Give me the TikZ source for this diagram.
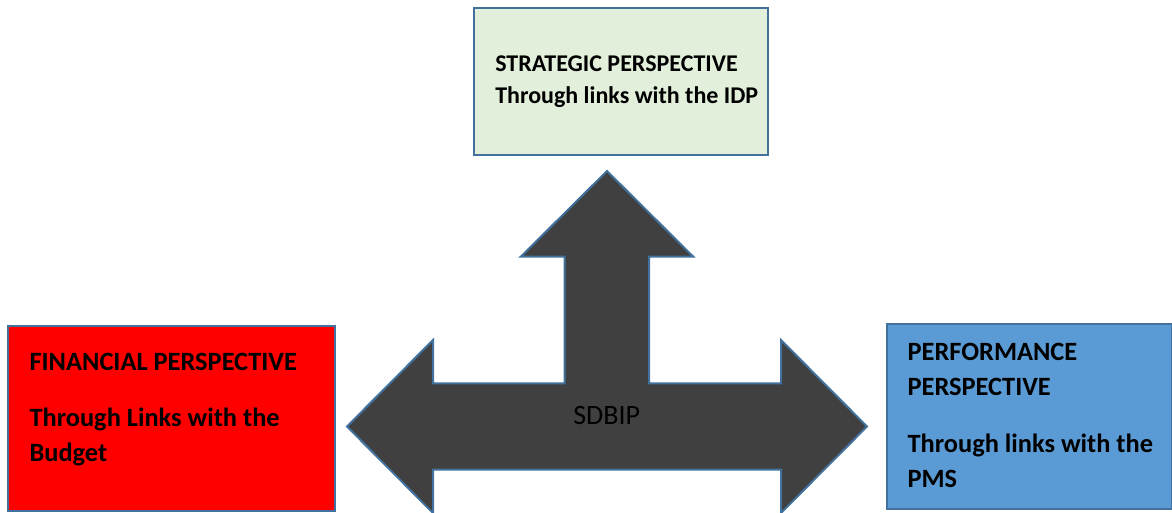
\documentclass[tikz,border=0pt]{standalone}
\usepackage{fontspec}
\setmainfont{Carlito}
\definecolor{edgeblue}{HTML}{41719C}
\definecolor{stratfill}{HTML}{E2EFDA}
\definecolor{perffill}{HTML}{5B9BD5}
\definecolor{arrowfill}{HTML}{404040}
\begin{document}
\begin{tikzpicture}[x=0.75pt,y=-0.75pt,
  panel/.style={draw=edgeblue,line width=1.6pt,inner sep=0pt},
  bigtxt/.style={anchor=base west,inner sep=0pt,font=\fontsize{19.8}{24}\selectfont\bfseries},
  smalltxt/.style={anchor=base west,inner sep=0pt,font=\fontsize{18}{22}\selectfont\bfseries},
  hub/.style={fill=arrowfill,draw=edgeblue,line width=1.5pt,line join=miter}]
\useasboundingbox (0,0) rectangle (1172,512);
% boxes
\node[panel,fill=stratfill,minimum width=220pt,minimum height=110.25pt,anchor=north west] (strat) at (473.3,7.3) {};
\node[panel,fill=red,minimum width=245.25pt,minimum height=138.75pt,anchor=north west] (fin) at (7.3,325) {};
\node[panel,fill=perffill,minimum width=214.1pt,minimum height=138.5pt,anchor=north west] (perf) at (885.5,323.3) {};
% texts
\node[smalltxt] (s1) at (495,71.7) {STRATEGIC PERSPECTIVE};
\node[smalltxt] (s2) at (495,103.3) {Through links with the IDP};
\node[bigtxt] (f1) at (29.3,370) {FINANCIAL PERSPECTIVE};
\node[bigtxt] (f2) at (29.3,426.7) {Through Links with the};
\node[bigtxt] (f3) at (29.3,461.7) {Budget};
\node[bigtxt] (p1) at (907.3,360) {PERFORMANCE};
\node[bigtxt] (p2) at (907.3,395) {PERSPECTIVE};
\node[bigtxt] (p3) at (907.3,452) {Through links with the};
\node[bigtxt] (p4) at (907.3,487) {PMS};
% three-way arrow
\draw[hub] (607,171) -- (693.3,256.7) -- (649,256.7) -- (649,383.3) -- (781,383.3)
  -- (781,340) -- (867,426.5) -- (781,513) -- (781,469.5) -- (433,469.5)
  -- (433,513) -- (347,426.5) -- (433,340) -- (433,383.3) -- (564.5,383.3)
  -- (564.5,256.7) -- (520.7,256.7) -- cycle;
\node[anchor=base,inner sep=0pt,font=\fontsize{21}{25}\selectfont] (sdbip) at (606.7,424.3) {SDBIP};
\end{tikzpicture}
\end{document}
